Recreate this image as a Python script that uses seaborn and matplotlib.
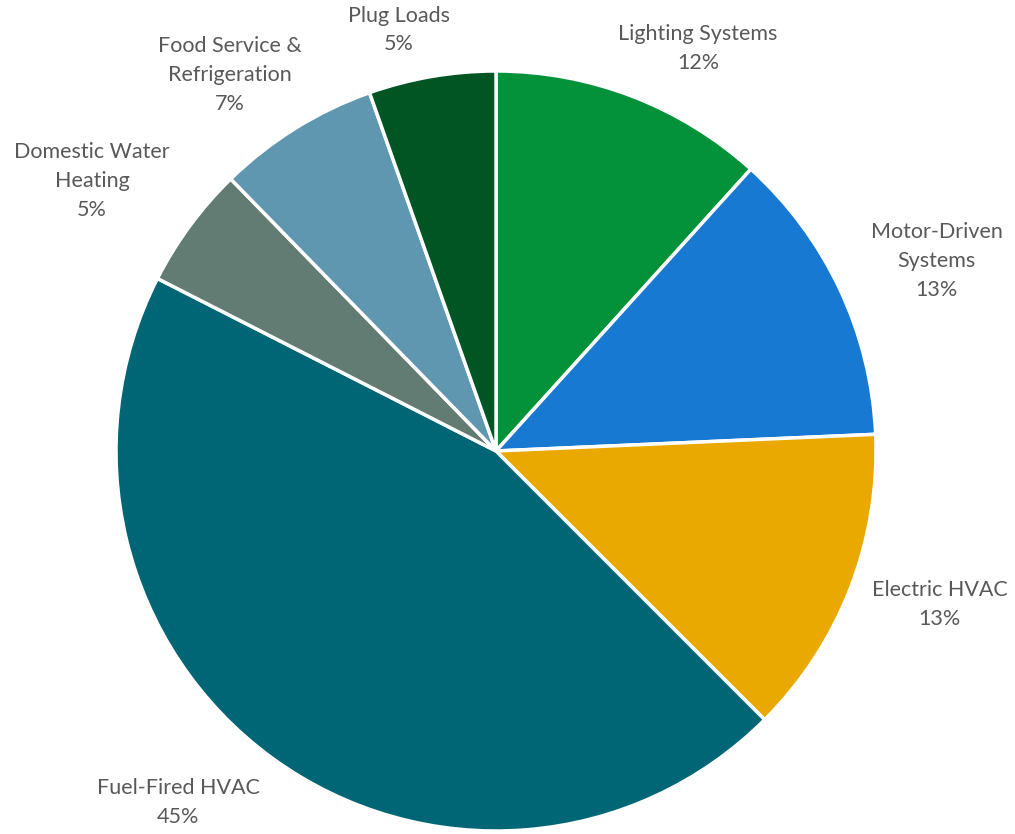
import matplotlib
matplotlib.use("Agg")
import matplotlib.pyplot as plt
import seaborn as sns
import numpy as np

categories = ["Lighting Systems", "Motor-Driven\nSystems", "Electric HVAC", "Fuel-Fired HVAC",
              "Domestic Water\nHeating", "Food Service &\nRefrigeration", "Plug Loads"]
values = [11.7, 12.6, 13.2, 45.0, 5.2, 6.9, 5.4]
colors = ["#03913A", "#1779D1", "#E9A900", "#006675", "#627C73", "#5F97B1", "#005523"]

# label anchor positions (layout, in units of pie radius, relative to pie center)
label_pos = [(0.532, 1.06), (1.16, 0.50), (1.168, -0.405), (-0.836, -0.926),
             (-1.063, 0.71), (-0.70, 0.99), (-0.255, 1.108)]

sns.set_theme(style="white")
plt.rcParams['font.family'] = ['Lato', 'DejaVu Sans']

fig = plt.figure(figsize=(10.15, 8.34), dpi=100)
ax = fig.add_axes([0, 0, 1, 1])
wedges, _ = ax.pie(values, colors=colors, startangle=90, counterclock=False,
                   radius=1.0, center=(0, 0),
                   wedgeprops=dict(edgecolor="white", linewidth=2.5))
ax.set_xlim(-496 / 380, (1015 - 496) / 380)
ax.set_ylim(-(834 - 451) / 380, 451 / 380)
ax.set_aspect("auto")
ax.axis("off")

for cat, v, (x, y) in zip(categories, values, label_pos):
    ax.text(x, y, f"{cat}\n{round(v):.0f}%", ha="center", va="center",
            fontsize=15.5, color="#595959", linespacing=1.55)

fig.savefig("out.png", dpi=100)
